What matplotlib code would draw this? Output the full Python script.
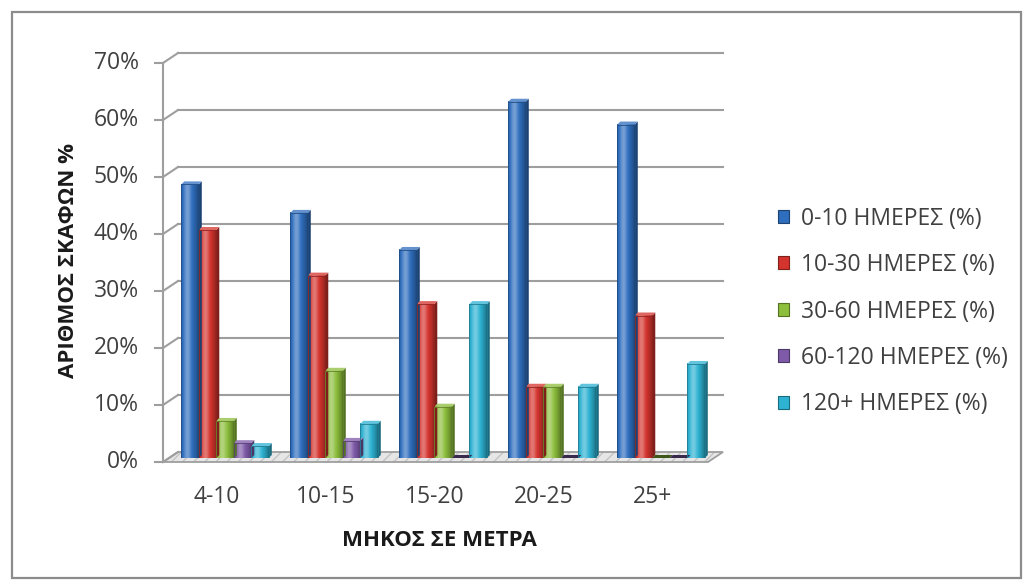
import numpy as np
import matplotlib
matplotlib.use("Agg")
import matplotlib.pyplot as plt
import matplotlib.transforms as mtransforms
from matplotlib.patches import Polygon, Patch, Rectangle
from matplotlib.lines import Line2D
from matplotlib.colors import to_rgb

# data
cats = ["4-10", "10-15", "15-20", "20-25", "25+"]
d0_10 = [48, 43, 36.5, 62.5, 58.5]
d10_30 = [40, 32, 27, 12.5, 25]
d30_60 = [6.5, 15.3, 9, 12.5, 0]
d60_120 = [2.6, 3, 0, 0, 0]
d120 = [2.1, 6, 27, 12.5, 16.5]
series = [d0_10, d10_30, d30_60, d60_120, d120]
names = ["0-10 ΗΜΕΡΕΣ (%)", "10-30 ΗΜΕΡΕΣ (%)", "30-60 ΗΜΕΡΕΣ (%)",
         "60-120 ΗΜΕΡΕΣ (%)", "120+ ΗΜΕΡΕΣ (%)"]
colors = ["#2F6EBE", "#D4342E", "#8DBE3C", "#7E5AA8", "#2DB2D2"]
yticks = [0, 10, 20, 30, 40, 50, 60, 70]

plt.rcParams["font.family"] = ["Open Sans", "DejaVu Sans"]

fig = plt.figure(figsize=(10.27, 5.84), dpi=100)
W, H = 1027, 584
ax = fig.add_axes([169 / W, (H - 458) / H, (714 - 169) / W, (458 - 59) / H])
xl, xr = -0.514, 4.486
ax.set_xlim(xl, xr)
ax.set_ylim(0, 70)
ax.axis("off")


def shift(dx, dy):
    return mtransforms.ScaledTranslation(dx / fig.dpi, dy / fig.dpi, fig.dpi_scale_trans)


front = ax.transData + shift(-6, -4)
back = ax.transData + shift(9, 6)
ident = mtransforms.IdentityTransform()
grid_c = "#9e9e9e"


def mix(c, f):
    c = np.array(to_rgb(c))
    if f >= 1:
        return c + (1 - c) * (f - 1)
    return c * f


# floor
pts = np.vstack([front.transform([(xl, 0), (xr, 0)]), back.transform([(xr, 0), (xl, 0)])])
ax.add_patch(Polygon(pts, closed=True, transform=ident, facecolor="#e6e6e6",
                     edgecolor="none", zorder=1, clip_on=False))
ax.add_patch(Polygon(pts, closed=True, transform=ident, facecolor="none",
                     edgecolor="#c4c4c4", lw=0, hatch="///", zorder=1, clip_on=False))
ax.add_patch(Polygon(pts, closed=True, transform=ident, facecolor="none",
                     edgecolor=grid_c, lw=1.3, zorder=1, clip_on=False))

# back wall gridlines and left wall
for v in yticks:
    if v > 0:
        ax.plot([xl, xr], [v, v], color=grid_c, lw=1.5, transform=back, zorder=1, clip_on=False)
    a = front.transform((xl, v))
    b = back.transform((xl, v))
    ax.add_line(Line2D([a[0], b[0]], [a[1], b[1]], color=grid_c, lw=1.5, transform=ident, clip_on=False))
    ax.add_line(Line2D([a[0] - 8, a[0]], [a[1], a[1]], color=grid_c, lw=1.5, transform=ident, clip_on=False))
    ax.text(xl, v, f"{v}%", transform=front + shift(-24, 0), ha="right", va="center",
            fontsize=16.5, color="#404040")
ax.plot([xl, xl], [0, 70], color=grid_c, lw=1.5, transform=front, clip_on=False)

# bars
w = 17.5 / 109
t = np.linspace(0, 1, 24)
prof = 1 + 0.35 * np.exp(-((t - 0.35) / 0.22) ** 2) - 0.35 * t ** 4 - 0.15 * (1 - t) ** 6
for i in range(len(cats)):
    for k, (vals, c) in enumerate(zip(series, colors)):
        x0 = i + (k - 2.5) * w
        x1 = x0 + w
        h = vals[i]
        if h > 0:
            img = np.array([[mix(c, f) for f in prof]])
            img = np.clip(img, 0, 1)
            ax.imshow(img, extent=(x0, x1, 0, h), aspect="auto", interpolation="bilinear", zorder=3)
            ax.add_patch(Rectangle((x0, 0), w, h, facecolor="none", edgecolor=mix(c, 0.7),
                                   lw=0.6, zorder=3.1))
        p = ax.transData.transform([(x1, 0), (x1, h)])
        side = np.array([p[0], p[1], p[1] + [3, 3], p[0] + [3, 3]])
        ax.add_patch(Polygon(side, transform=ident, facecolor=mix(c, 0.6), edgecolor="none",
                             zorder=3.05))
        q = ax.transData.transform([(x0, h), (x1, h)])
        top = np.array([q[0], q[1], q[1] + [3, 3], q[0] + [3, 3]])
        ax.add_patch(Polygon(top, transform=ident, facecolor=mix(c, 1.25 if h > 0 else 0.45),
                             edgecolor="none", zorder=3.05))

# x labels
for i, cat in enumerate(cats):
    ax.text(i, 0, cat, transform=front + shift(-2, -35), ha="center", va="center",
            fontsize=16.5, color="#404040")

ax.set_xlim(xl, xr)
ax.set_ylim(0, 70)

fig.text(68 / W, 1 - 260 / H, "ΑΡΙΘΜΟΣ ΣΚΑΦΩΝ %", rotation=90, ha="center", va="center",
         fontsize=16, fontweight="bold", color="#1a1a1a")
fig.text(439 / W, 1 - 540 / H, "ΜΗΚΟΣ ΣΕ ΜΕΤΡΑ", ha="center", va="center",
         fontsize=16, fontweight="bold", color="#1a1a1a")

handles = [Patch(facecolor=c, edgecolor=mix(c, 0.6), lw=0.8) for c in colors]
fig.legend(handles, names, loc="upper left", bbox_to_anchor=(757 / W, 1 - 186 / H),
           frameon=False, fontsize=16.5, labelcolor="#404040", handlelength=0.5,
           handleheight=0.5, handletextpad=0.5, labelspacing=0.98)

fig.add_artist(Rectangle((12 / W, 6 / H), (1021 - 12) / W, (578 - 12) / H,
                         transform=fig.transFigure, facecolor="none", edgecolor="#8c8c8c", lw=1.6))

fig.savefig("out.png", dpi=100)
